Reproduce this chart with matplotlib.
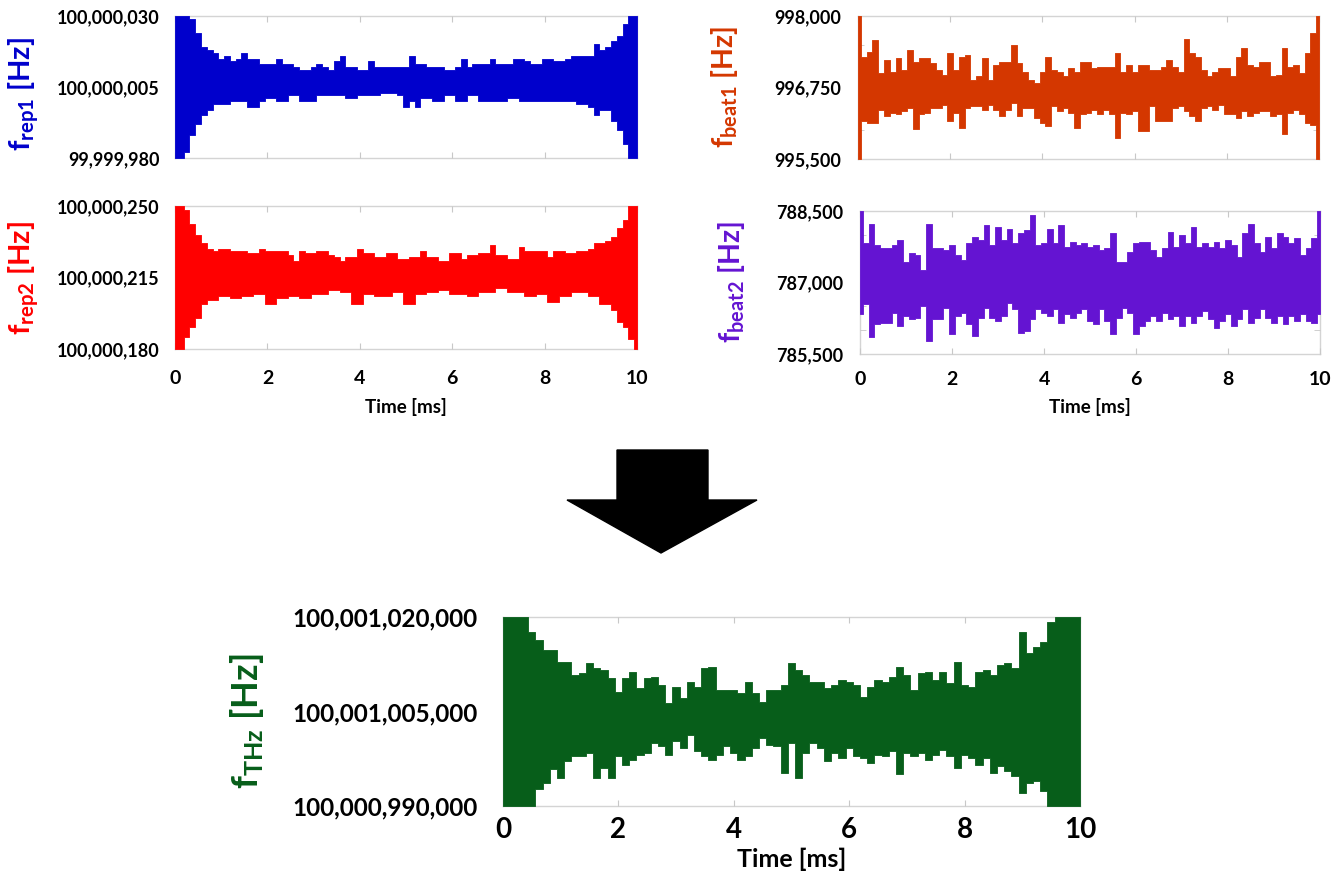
import numpy as np
import matplotlib
matplotlib.use("Agg")
import matplotlib.pyplot as plt
from matplotlib.patches import Polygon

plt.rcParams['font.family'] = ['Lato', 'DejaVu Sans']
plt.rcParams['font.weight'] = 'bold'
plt.rcParams['mathtext.fontset'] = 'custom'
plt.rcParams['mathtext.rm'] = 'Lato:bold'
plt.rcParams['mathtext.bf'] = 'Lato:bold'
plt.rcParams['mathtext.it'] = 'Lato:bold'

# envelope samples every 0.125 ms over the 10 ms record
time_ms = np.linspace(0, 10, 81)

# f_rep1: upper / lower excursion around the centre value [Hz]
FREP1_CENTER = 100_000_005
frep1_hi = [25, 25, 25, 24, 19, 14, 13, 12, 10, 11,
            9, 10, 12, 10, 10, 8, 8, 8, 10, 8,
            8, 7, 6, 6, 7, 8, 7, 6, 9, 11,
            7, 7, 6, 6, 9, 7, 7, 7, 7, 7,
            7, 11, 8, 8, 7, 7, 7, 6, 6, 7,
            10, 7, 8, 8, 8, 10, 8, 8, 8, 10,
            10, 9, 8, 8, 10, 10, 9, 9, 10, 11,
            11, 11, 11, 15, 13, 14, 16, 18, 22, 25,
            25]
frep1_lo = [-25, -25, -23, -17, -13, -10, -8, -6, -6, -6,
            -5, -5, -5, -7, -7, -5, -4, -4, -5, -5,
            -3, -3, -5, -5, -5, -3, -3, -3, -3, -3,
            -4, -4, -3, -3, -3, -3, -2, -2, -2, -3,
            -7, -5, -7, -4, -4, -5, -5, -3, -3, -5,
            -5, -3, -3, -5, -5, -5, -5, -5, -4, -4,
            -5, -5, -5, -5, -5, -5, -5, -5, -5, -5,
            -6, -6, -7, -10, -8, -8, -12, -15, -20, -25,
            -25]

# f_rep2
FREP2_CENTER = 100_000_215
frep2_hi = [35, 35, 33, 26, 21, 17, 14, 13, 14, 14,
            13, 13, 13, 12, 12, 14, 13, 13, 13, 13,
            11, 8, 13, 12, 12, 13, 13, 11, 10, 8,
            10, 10, 14, 12, 12, 10, 10, 12, 12, 9,
            9, 10, 10, 13, 10, 10, 8, 8, 12, 12,
            9, 11, 11, 12, 12, 16, 11, 11, 9, 9,
            15, 13, 13, 13, 13, 10, 13, 13, 12, 12,
            13, 13, 14, 17, 17, 18, 20, 24, 28, 35,
            35]
frep2_lo = [-35, -35, -29, -24, -20, -13, -11, -11, -9, -9,
            -10, -10, -9, -9, -8, -8, -13, -13, -10, -10,
            -9, -9, -10, -10, -8, -8, -8, -6, -6, -7,
            -7, -13, -13, -8, -8, -9, -9, -9, -7, -7,
            -13, -13, -8, -8, -7, -7, -6, -6, -8, -8,
            -8, -9, -9, -7, -7, -7, -5, -5, -7, -7,
            -7, -9, -9, -8, -8, -12, -12, -9, -9, -7,
            -7, -7, -9, -9, -13, -13, -16, -22, -24, -30,
            -35]

# f_beat1
FBEAT1_CENTER = 996_750
fbeat1_hi = [1250, 540, 625, 830, 250, 480, 280, 510, 310, 655,
             450, 510, 510, 425, 310, 220, 600, 310, 540, 570,
             135, 195, 510, 135, 395, 450, 450, 740, 425, 280,
             135, 75, 280, 540, 310, 280, 195, 340, 280, 450,
             450, 340, 365, 365, 365, 600, 280, 395, 280, 395,
             395, 310, 310, 365, 480, 365, 280, 855, 600, 540,
             310, 195, 280, 340, 340, 195, 540, 685, 395, 365,
             450, 450, 195, 220, 685, 365, 395, 250, 600, 945,
             1250]
fbeat1_lo = [-1250, -585, -615, -615, -385, -500, -440, -470, -415, -355,
             -730, -470, -440, -355, -355, -300, -585, -440, -700, -355,
             -325, -325, -385, -300, -385, -500, -385, -270, -500, -355,
             -355, -530, -615, -675, -325, -415, -355, -440, -700, -470,
             -440, -385, -470, -385, -470, -875, -440, -470, -415, -760,
             -760, -325, -585, -585, -585, -355, -325, -415, -500, -585,
             -355, -325, -385, -300, -470, -470, -530, -415, -500, -440,
             -415, -415, -500, -470, -815, -440, -385, -470, -615, -650,
             -1250]

# f_beat2
FBEAT2_CENTER = 787_000
fbeat2_hi = [1500, 820, 1235, 785, 715, 715, 785, 890, 440, 610,
             580, 265, 1235, 715, 715, 680, 785, 580, 475, 820,
             960, 890, 1200, 785, 1165, 890, 1130, 820, 1030, 1100,
             1410, 785, 820, 1130, 820, 1200, 750, 855, 785, 820,
             750, 785, 680, 715, 1030, 440, 440, 645, 820, 855,
             855, 680, 545, 715, 1065, 750, 995, 820, 1165, 750,
             820, 750, 855, 715, 890, 785, 545, 1030, 1235, 820,
             645, 960, 715, 1030, 960, 820, 925, 580, 715, 925,
             1500]
fbeat2_lo = [-670, -460, -1150, -875, -840, -840, -635, -910, -705, -775,
             -740, -495, -1220, -775, -775, -530, -1085, -705, -635, -875,
             -1120, -740, -530, -740, -810, -705, -425, -565, -1050, -1015,
             -775, -565, -635, -705, -565, -840, -670, -740, -635, -565,
             -810, -875, -565, -810, -1085, -740, -530, -635, -1085, -910,
             -810, -705, -810, -635, -775, -705, -910, -705, -840, -705,
             -600, -775, -945, -810, -670, -910, -775, -565, -840, -740,
             -565, -740, -840, -705, -875, -705, -810, -670, -810, -840,
             -670]

# f_THz
FTHZ_CENTER = 100_001_005_000
fthz_hi = [15000, 15000, 15000, 15000, 12600, 11300, 9730, 9730, 7890, 7890,
           5790, 6050, 7630, 6840, 6580, 5260, 3160, 5260, 6310, 3680,
           5260, 5520, 4210, 1320, 3950, 2100, 4730, 3950, 6840, 7100,
           3420, 3420, 3420, 2890, 4730, 2890, 1580, 3420, 3420, 4210,
           7630, 6580, 5790, 4730, 4730, 3680, 4210, 5000, 4730, 4210,
           2370, 3950, 5000, 4730, 5520, 7100, 5790, 3420, 6050, 6310,
           5000, 6310, 4470, 7890, 4210, 3950, 6310, 6580, 5790, 7360,
           7630, 6840, 12620, 9210, 10260, 11050, 14200, 15000, 15000, 15000,
           15000]
fthz_lo = [-15000, -15000, -15000, -15000, -15000, -12360, -11310, -9200, -10520, -7890,
           -7100, -7100, -6580, -10520, -8940, -10520, -7100, -8420, -7630, -6840,
           -6580, -5000, -5520, -6840, -4730, -5790, -3680, -6310, -7100, -7630,
           -6840, -5520, -6580, -7630, -7100, -5790, -4210, -5260, -5520, -9730,
           -5000, -10520, -6580, -5000, -5790, -7890, -6580, -7360, -5790, -7100,
           -7360, -8150, -6840, -7100, -6310, -9990, -6580, -7100, -6580, -7630,
           -6840, -6050, -7100, -8940, -6840, -7360, -8420, -7360, -9730, -8680,
           -9470, -10260, -12890, -11310, -11050, -12620, -15000, -15000, -15000, -15000,
           -15000]

X_TICKS = [0, 2, 4, 6, 8, 10]


def draw_trace(fig, rect, center, hi, lo, ylim, step, ylabels, color, ylabel,
               label_pos, tick_size=13, label_size=21, ytick_pad=11,
               xtick_pad=None, xlabel_y=None, xlabel_size=13.5, xtick_size=14):
    ax = fig.add_axes(rect)
    upper = center + np.asarray(hi, dtype=float)
    lower = center + np.asarray(lo, dtype=float)
    ax.fill_between(time_ms, lower, upper, step='mid', color=color,
                    linewidth=0.6, edgecolor=color, zorder=2)

    ax.set_xlim(0, 10)
    ax.set_ylim(*ylim)

    ax.set_yticks(ylabels, [f"{v:,}" for v in ylabels])
    ax.set_yticks(np.arange(ylim[0], ylim[1] + step, step), minor=True)
    ax.set_xticks(X_TICKS)

    ax.tick_params(axis='y', which='major', length=0, pad=ytick_pad,
                   labelsize=tick_size)
    ax.tick_params(axis='y', which='minor', direction='in', length=4,
                   color='#c8c8c8', left=True, right=True)
    ax.tick_params(axis='x', which='major', direction='in', length=4,
                   color='#c8c8c8', top=True, bottom=True,
                   labelbottom=xtick_pad is not None,
                   pad=xtick_pad or 4, labelsize=xtick_size)
    for lab in ax.get_xticklabels() + ax.get_yticklabels():
        lab.set_fontweight('bold')

    for sp in ax.spines.values():
        sp.set_color('#d4d4d4')
        sp.set_linewidth(1.0)
        sp.set_zorder(1)

    ax.set_ylabel(ylabel, color=color, fontsize=label_size, fontweight='bold')
    ax.yaxis.set_label_coords(*label_pos)

    if xlabel_y is not None:
        ax.set_xlabel('Time [ms]', fontsize=xlabel_size, fontweight='bold')
        ax.xaxis.set_label_coords(0.5, xlabel_y)
    return ax


def main():
    fig = plt.figure(figsize=(13.43, 8.8), dpi=100)

    draw_trace(fig, [0.1303, 0.8205, 0.344, 0.1614], FREP1_CENTER,
               frep1_hi, frep1_lo, (99_999_980, 100_000_030), 10,
               [99_999_980, 100_000_005, 100_000_030], '#0000CC',
               r'$\mathbf{f_{rep1}}$ [Hz]', (-0.29, 0.45))

    draw_trace(fig, [0.1303, 0.6034, 0.344, 0.1625], FREP2_CENTER,
               frep2_hi, frep2_lo, (100_000_180, 100_000_250), 10,
               [100_000_180, 100_000_215, 100_000_250], '#FF0000',
               r'$\mathbf{f_{rep2}}$ [Hz]', (-0.29, 0.5),
               xtick_pad=15, xlabel_y=-0.34)

    draw_trace(fig, [0.6389, 0.8193, 0.3433, 0.1625], FBEAT1_CENTER,
               fbeat1_hi, fbeat1_lo, (995_500, 998_000), 500,
               [995_500, 996_750, 998_000], '#D43700',
               r'$\mathbf{f_{beat1}}$ [Hz]', (-0.255, 0.5), ytick_pad=12,
               label_size=20.5)

    draw_trace(fig, [0.6404, 0.5977, 0.3425, 0.1625], FBEAT2_CENTER,
               fbeat2_hi, fbeat2_lo, (785_500, 788_500), 500,
               [785_500, 787_000, 788_500], '#6414D2',
               r'$\mathbf{f_{beat2}}$ [Hz]', (-0.245, 0.5), ytick_pad=12,
               label_size=20.5, xtick_pad=12, xlabel_y=-0.31)

    draw_trace(fig, [0.3745, 0.0841, 0.4296, 0.2148], FTHZ_CENTER,
               fthz_hi, fthz_lo, (100_000_990_000, 100_001_020_000), 5000,
               [100_000_990_000, 100_001_005_000, 100_001_020_000], '#075E1A',
               r'$\mathbf{f_{THz}}$ [Hz]', (-0.41, 0.45), tick_size=17.5,
               label_size=26, ytick_pad=18, xtick_pad=8, xtick_size=20,
               xlabel_y=-0.22, xlabel_size=18)

    # block arrow between the comb panels and the THz result
    W, H = 1343.0, 880.0
    pts = [(617, 450), (708, 450), (708, 500), (757, 500),
           (661, 553), (567, 500), (617, 500)]
    arrow = Polygon([(x / W, 1 - y / H) for x, y in pts], closed=True,
                    facecolor='black', edgecolor='black',
                    transform=fig.transFigure)
    fig.patches.append(arrow)

    fig.savefig('out.png', dpi=100)


if __name__ == "__main__":
    main()
